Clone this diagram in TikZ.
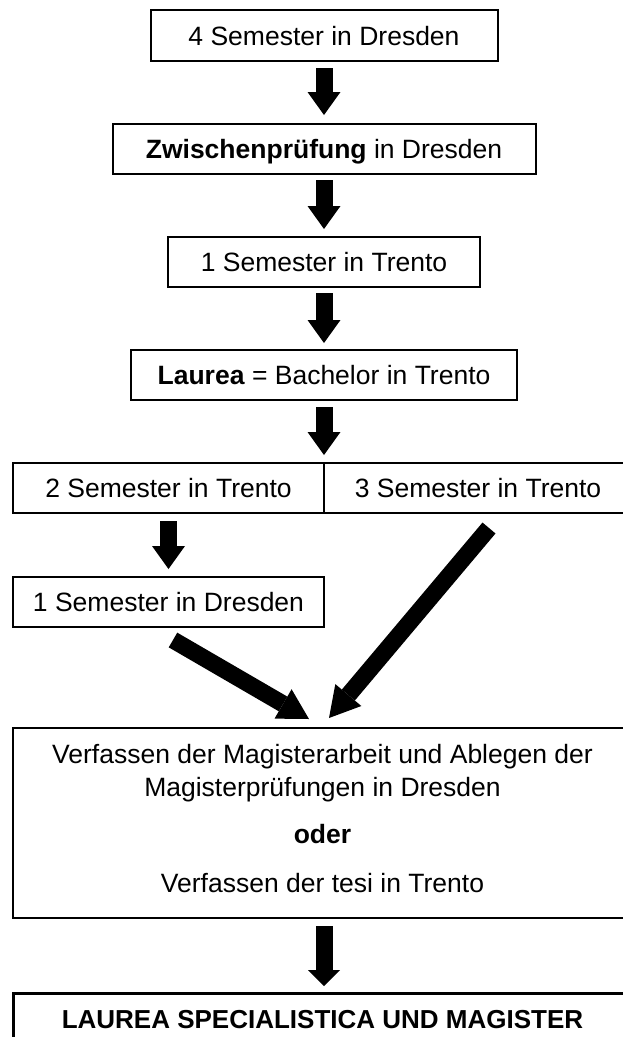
\documentclass[tikz,border=0pt]{standalone}
\usepackage{fontspec}
\setmainfont{Liberation Sans}
\usetikzlibrary{arrows.meta}
\begin{document}
\begin{tikzpicture}[x=1pt,y=-1pt,
  box/.style={draw, line width=2pt, rectangle, inner sep=0pt, outer sep=0pt,
    font=\fontsize{26.5}{32}\selectfont, text height=19pt, text depth=0pt,
    minimum height=50pt},
  txt/.style={inner sep=0pt, font=\fontsize{26.5}{32}\selectfont},
  fat/.style={line width=17pt, -{Triangle[width=33pt,length=23pt,line width=0pt]}},
  fatlow/.style={line width=17pt, -{Triangle[width=32pt,length=16pt,line width=0pt]}},
  fatd/.style={line width=17pt, -{Triangle[width=34pt,length=30pt,line width=0pt]}},
 ]
\fill[white] (0,0) rectangle (623,1037);
\useasboundingbox (0,0) rectangle (623,1037);

\node[box, minimum width=347pt, minimum height=51pt] (b1) at (324,35.5) {4 Semester in Dresden};
\node[box, minimum width=423pt] (b2) at (324,149) {\textbf{Zwischenprüfung} in Dresden};
\node[box, minimum width=312pt] (b3) at (324,262) {1 Semester in Trento};
\node[box, minimum width=386pt] (b4) at (324,375) {\textbf{Laurea} = Bachelor in Trento};
\node[box, minimum width=311pt] (r1) at (168.5,488) {2 Semester in Trento};
\node[box, minimum width=308pt] (r2) at (478,488) {3 Semester in Trento};
\node[box, minimum width=311pt] (d1) at (168.5,602) {1 Semester in Dresden};
\node[box, minimum width=619pt, minimum height=190pt] (big) at (322.5,823) {};
\node[txt, anchor=base] (t1) at (322.5,763) {Verfassen der Magisterarbeit und Ablegen der};
\node[txt, anchor=base] (t2) at (322.5,796) {Magisterprüfungen in Dresden};
\node[txt, anchor=base] (t3) at (322.5,843) {\textbf{oder}};
\node[txt, anchor=base] (t4) at (322.5,892) {Verfassen der tesi in Trento};
\node[box, line width=3pt, minimum width=619pt, minimum height=70pt,
  font=\fontsize{26}{32}\selectfont\bfseries, text height=20pt, text depth=20pt]
  (bot) at (322.5,1028) {LAUREA SPECIALISTICA UND MAGISTER};

\draw[fat, shorten <=7pt, shorten >=9pt] (b1.south) -- (b2.north);
\draw[fat, shorten <=6pt, shorten >=8pt] (b2.south) -- (b3.north);
\draw[fat, shorten <=6pt, shorten >=7pt] (b3.south) -- (b4.north);
\draw[fat, shorten <=7pt, shorten >=8pt] (b4.south) -- (r1.north east);
\draw[fat, shorten <=8pt, shorten >=8pt] (r1.south) -- (d1.north);
\draw[fatlow, shorten <=8pt, shorten >=7pt] (big.south -| b4.south) -- (bot.north -| b4.south);

\coordinate (l0) at (173,640);
\coordinate (l1) at (309,719);
\coordinate (q0) at (489,528);
\coordinate (q1) at (329,718);
\draw[fatd] (l0) -- (l1);
\draw[fatd] (q0) -- (q1);
\end{tikzpicture}
\end{document}
